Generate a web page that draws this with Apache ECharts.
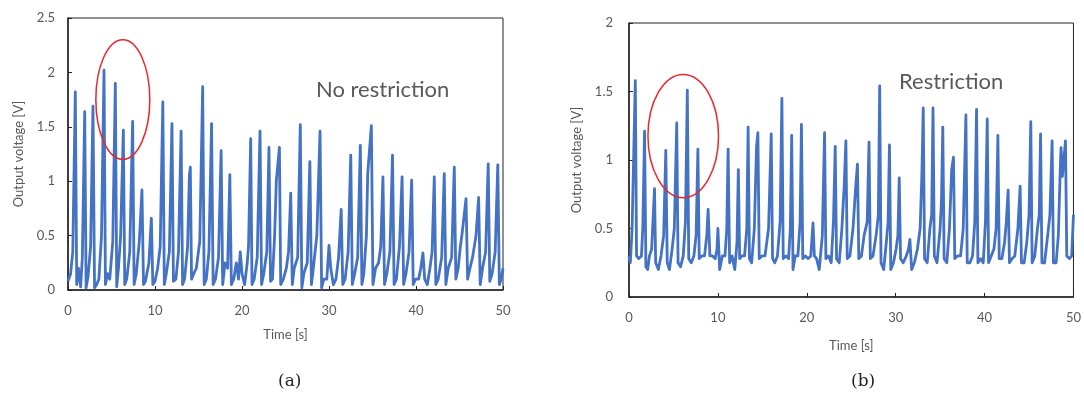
<!DOCTYPE html>
<html>
<head>
<meta charset="utf-8">
<title>Output voltage</title>
<script src="https://cdn.jsdelivr.net/npm/echarts@6/dist/echarts.min.js"></script>
<style>
  html, body { margin: 0; padding: 0; background: #fff; }
  #chart { width: 1084px; height: 394px; }
</style>
</head>
<body>
<div id="chart"></div>
<script>
// (a) no restriction: time [s] and output voltage [V], one pulse per line
const timeA = [
  0.0, 0.3, 0.55,
  0.84, 1.0, 1.2, 1.45, 1.65,
  1.92, 2.08, 2.3, 2.6,
  2.87, 3.05, 3.3, 3.55, 3.85,
  4.14, 4.3, 4.55, 4.8, 5.15,
  5.44, 5.6, 5.8, 6.05,
  6.36, 6.52, 6.75, 7.1,
  7.43, 7.6, 7.85, 8.2,
  8.5, 8.68, 8.9, 9.3,
  9.58, 9.75, 10.0, 10.3, 10.6,
  10.9, 11.07, 11.3, 11.65,
  11.95, 12.12, 12.4, 12.7,
  13.0, 13.17, 13.4, 13.75, 13.95,
  14.06, 14.2, 14.45, 14.75, 15.15,
  15.48, 15.65, 15.9, 16.2,
  16.5, 16.68, 16.95, 17.3,
  17.6, 17.78, 18.05, 18.35,
  18.6, 18.78, 19.05, 19.35, 19.6,
  19.8, 20.0, 20.3, 20.6, 20.75,
  21.0, 21.15, 21.4, 21.75,
  22.07, 22.25, 22.5, 22.85,
  23.1, 23.28, 23.5, 23.75, 23.95,
  24.3, 24.45, 24.75, 25.1, 25.35,
  25.6, 25.78, 26.0, 26.4,
  26.7, 26.88, 27.1, 27.5,
  27.8, 27.98, 28.2, 28.6,
  28.97, 29.15, 29.4, 29.75,
  30.0, 30.2, 30.5, 30.8, 31.1,
  31.4, 31.58, 31.85, 32.2,
  32.5, 32.68, 32.95, 33.3,
  33.6, 33.78, 34.0, 34.3, 34.45,
  34.87, 35.05, 35.35, 35.7, 35.95,
  36.2, 36.38, 36.65, 37.0,
  37.3, 37.48, 37.75, 38.1,
  38.4, 38.58, 38.85, 39.2,
  39.5, 39.68, 39.95, 40.3, 40.55,
  40.8, 41.0, 41.3, 41.6, 41.85,
  42.1, 42.28, 42.55, 42.95,
  43.25, 43.43, 43.7, 44.1,
  44.4, 44.58, 44.85, 45.1, 45.3,
  45.75, 45.93, 46.2, 46.5, 46.9,
  47.2, 47.38, 47.65, 48.0,
  48.3, 48.48, 48.75, 49.1,
  49.4, 49.58, 49.8, 50.0
];
const voltA = [
  0.08, 0.15, 0.35,
  1.82, 0.05, 0.2, 0.03, 0.3,
  1.64, 0.02, 0.12, 0.4,
  1.69, 0.02, 0.05, 0.1, 0.5,
  2.02, 0.05, 0.15, 0.1, 0.45,
  1.90, 0.03, 0.2, 0.5,
  1.47, 0.05, 0.1, 0.35,
  1.55, 0.05, 0.15, 0.45,
  0.92, 0.05, 0.08, 0.25,
  0.66, 0.05, 0.08, 0.2, 0.4,
  1.73, 0.05, 0.15, 0.35,
  1.53, 0.08, 0.1, 0.35,
  1.46, 0.05, 0.1, 0.4, 1.05,
  1.13, 0.1, 0.15, 0.2, 0.45,
  1.87, 0.05, 0.1, 0.35,
  1.53, 0.05, 0.1, 0.3,
  1.28, 0.05, 0.25, 0.2,
  1.06, 0.05, 0.1, 0.25, 0.1,
  0.35, 0.15, 0.05, 0.25, 0.4,
  1.39, 0.05, 0.1, 0.3,
  1.46, 0.05, 0.15, 0.35,
  1.31, 0.08, 0.1, 0.5, 1.01,
  1.31, 0.05, 0.1, 0.2, 0.35,
  0.89, 0.05, 0.2, 0.3,
  1.52, 0.02, 0.15, 0.25,
  1.18, 0.05, 0.2, 0.5,
  1.46, 0.02, 0.1, 0.1,
  0.41, 0.2, 0.05, 0.1, 0.3,
  0.74, 0.05, 0.1, 0.35,
  1.24, 0.05, 0.15, 0.3,
  1.33, 0.05, 0.15, 0.5, 1.07,
  1.51, 0.05, 0.2, 0.25, 0.4,
  1.04, 0.05, 0.15, 0.35,
  1.24, 0.05, 0.1, 0.4,
  1.04, 0.05, 0.15, 0.35,
  1.01, 0.05, 0.1, 0.1, 0.2,
  0.34, 0.1, 0.05, 0.2, 0.35,
  1.04, 0.05, 0.1, 0.3,
  1.07, 0.05, 0.2, 0.3,
  1.13, 0.1, 0.2, 0.4, 0.52,
  0.84, 0.1, 0.2, 0.3, 0.5,
  0.85, 0.05, 0.2, 0.35,
  1.16, 0.08, 0.15, 0.35,
  1.15, 0.05, 0.1, 0.2
];

// (b) restriction
const timeB = [
  0.0, 0.15, 0.35,
  0.71, 0.85, 1.1, 1.4, 1.55,
  1.75, 1.9, 2.1, 2.3, 2.55,
  2.87, 3.0, 3.3, 3.6, 3.9,
  4.14, 4.3, 4.55, 4.85, 5.1,
  5.37, 5.52, 5.8, 6.1, 6.35,
  6.56, 6.72, 7.0, 7.3, 7.55,
  7.75, 7.9, 8.2, 8.5, 8.75,
  8.9, 9.1, 9.4, 9.7, 9.9,
  10.0, 10.2, 10.5, 10.8, 11.0,
  11.15, 11.32, 11.6, 11.9, 12.15,
  12.3, 12.45, 12.7, 13.0, 13.25,
  13.4, 13.55, 13.8, 14.1, 14.35,
  14.5, 14.65, 14.95, 15.3, 15.7,
  16.0, 16.15, 16.4, 16.7, 17.0,
  17.2, 17.35, 17.65, 17.95, 18.15,
  18.3, 18.45, 18.7, 19.0, 19.25,
  19.4, 19.55, 19.85, 20.15, 20.45,
  20.7, 20.85, 21.1, 21.4, 21.75,
  22.0, 22.15, 22.45, 22.75, 23.0,
  23.2, 23.35, 23.65, 23.95, 24.2,
  24.4, 24.55, 24.85, 25.2, 25.5,
  25.7, 25.85, 26.15, 26.45, 26.8,
  27.0, 27.15, 27.45, 27.8, 28.05,
  28.2, 28.35, 28.65, 28.95, 29.15,
  29.3, 29.45, 29.75, 30.05, 30.25,
  30.4, 30.55, 30.85, 31.2, 31.45,
  31.6, 31.8, 32.1, 32.45, 32.75, 32.95,
  33.1, 33.25, 33.55, 33.85, 34.05,
  34.2, 34.35, 34.65, 35.0, 35.15,
  35.3, 35.45, 35.75, 36.05, 36.3,
  36.5, 36.65, 36.95, 37.3, 37.6,
  37.9, 38.05, 38.35, 38.65, 38.9,
  39.1, 39.25, 39.55, 39.85, 40.1,
  40.3, 40.45, 40.75, 41.05, 41.3,
  41.5, 41.65, 41.95, 42.25, 42.45,
  42.65, 42.8, 43.1, 43.4, 43.75,
  44.0, 44.15, 44.45, 44.75, 45.0,
  45.2, 45.35, 45.65, 45.95, 46.15,
  46.3, 46.45, 46.75, 47.1, 47.35,
  47.6, 47.75, 48.05, 48.3, 48.5,
  48.6, 48.75, 49.1, 49.25, 49.55, 49.8, 50.0
];
const voltB = [
  0.3, 0.25, 0.5,
  1.58, 0.3, 0.28, 0.3, 0.5,
  1.21, 0.22, 0.2, 0.3, 0.35,
  0.79, 0.25, 0.2, 0.3, 0.45,
  1.07, 0.25, 0.2, 0.35, 0.5,
  1.27, 0.25, 0.22, 0.3, 0.55,
  1.51, 0.28, 0.25, 0.3, 0.45,
  1.08, 0.28, 0.3, 0.3, 0.45,
  0.64, 0.3, 0.3, 0.28, 0.35,
  0.50, 0.2, 0.3, 0.3, 0.5,
  1.08, 0.25, 0.3, 0.2, 0.4,
  0.93, 0.28, 0.3, 0.3, 0.5,
  1.24, 0.28, 0.25, 0.5, 1.1,
  1.20, 0.28, 0.3, 0.3, 0.5,
  1.19, 0.28, 0.25, 0.3, 0.55,
  1.45, 0.28, 0.3, 0.28, 0.5,
  1.18, 0.2, 0.3, 0.3, 0.55,
  1.26, 0.28, 0.3, 0.28, 0.3,
  0.54, 0.3, 0.28, 0.2, 0.45,
  1.20, 0.28, 0.3, 0.25, 0.55,
  1.10, 0.28, 0.25, 0.5, 0.8,
  1.14, 0.28, 0.3, 0.5, 0.8,
  0.97, 0.28, 0.3, 0.45, 0.55,
  1.13, 0.28, 0.3, 0.45, 0.6,
  1.54, 0.25, 0.2, 0.4, 0.55,
  1.11, 0.2, 0.25, 0.35, 0.45,
  0.87, 0.28, 0.25, 0.3, 0.35,
  0.42, 0.2, 0.25, 0.35, 0.5, 0.9,
  1.38, 0.28, 0.25, 0.5, 0.6,
  1.38, 0.3, 0.25, 0.5, 0.7,
  1.24, 0.28, 0.25, 0.5, 0.93,
  1.02, 0.28, 0.3, 0.3, 0.5,
  1.33, 0.25, 0.25, 0.3, 0.55,
  1.37, 0.25, 0.28, 0.25, 0.55,
  1.30, 0.25, 0.3, 0.35, 0.5,
  1.18, 0.28, 0.28, 0.4, 0.55,
  0.78, 0.25, 0.28, 0.3, 0.5,
  0.81, 0.25, 0.25, 0.4, 0.6,
  1.28, 0.25, 0.3, 0.5, 0.6,
  1.19, 0.25, 0.25, 0.45, 0.6,
  1.14, 0.25, 0.25, 0.45, 0.9,
  1.09, 0.88, 1.14, 0.3, 0.28, 0.3, 0.6
];

// red circled regions: centre and half extents, in data units
const ringA = { t: 6.3, v: 1.75, dt: 3.1, dv: 0.55 };
const ringB = { t: 6.1, v: 1.175, dt: 3.97, dv: 0.45 };

const zip = (xs, ys) => xs.map((x, i) => [x, ys[i]]);

const FONT = "Lato";
const TXT = "#595959";
const BLUE = "#4472c4";

const chart = echarts.init(document.getElementById("chart"), null, { renderer: "canvas" });

const xAxisBase = (gridIndex, gap) => ({
  type: "value",
  gridIndex,
  min: 0,
  max: 50,
  interval: 10,
  name: "Time [s]",
  nameLocation: "middle",
  nameGap: gap,
  nameTextStyle: { color: TXT, fontFamily: FONT, fontSize: 13 },
  axisLine: { lineStyle: { color: "#222", width: 1.5 } },
  axisTick: { inside: true, length: 4, lineStyle: { color: "#222" } },
  axisLabel: { color: TXT, fontFamily: FONT, fontSize: 13, margin: 14 },
  splitLine: { show: false },
});

const yAxisBase = (gridIndex, max, gap, margin) => ({
  type: "value",
  gridIndex,
  min: 0,
  max,
  interval: 0.5,
  name: "Output voltage [V]",
  nameLocation: "middle",
  nameGap: gap,
  nameTextStyle: { color: TXT, fontFamily: FONT, fontSize: 13 },
  axisLine: { show: true, lineStyle: { color: "#222", width: 1.5 } },
  axisTick: { show: true, inside: true, length: 4, lineStyle: { color: "#222" } },
  axisLabel: { color: TXT, fontFamily: FONT, fontSize: 13, margin },
  splitLine: { show: false },
});

const lineSeries = (idx, data) => ({
  type: "line",
  xAxisIndex: idx,
  yAxisIndex: idx,
  data,
  symbol: "none",
  smooth: false,
  lineStyle: { color: BLUE, width: 2.8, join: "round" },
  animation: false,
});

chart.setOption({
  backgroundColor: "#fff",
  animation: false,
  grid: [
    { left: 68, top: 18, width: 435, height: 272, show: true, borderColor: "#222", borderWidth: 1 },
    { left: 629, top: 23, width: 447, height: 274, show: true, borderColor: "#222", borderWidth: 1 },
  ],
  xAxis: [xAxisBase(0, 38), xAxisBase(1, 42)],
  yAxis: [yAxisBase(0, 2.5, 43, 13), yAxisBase(1, 2, 46, 16)],
  series: [lineSeries(0, zip(timeA, voltA)), lineSeries(1, zip(timeB, voltB))],
  title: [
    { text: "No restriction", left: 311, top: 74, textStyle: { color: TXT, fontFamily: FONT, fontSize: 22, fontWeight: "normal" } },
    { text: "Restriction", left: 894, top: 66, textStyle: { color: TXT, fontFamily: FONT, fontSize: 22, fontWeight: "normal" } },
    { text: "(a)", left: 273, top: 368, textStyle: { color: "#222", fontFamily: "DejaVu Serif", fontSize: 17, fontWeight: "normal" } },
    { text: "(b)", left: 846, top: 368, textStyle: { color: "#222", fontFamily: "DejaVu Serif", fontSize: 17, fontWeight: "normal" } },
  ],
});

// place the red ellipses from their data positions
function ring(gridIndex, r) {
  const c = chart.convertToPixel({ gridIndex }, [r.t, r.v]);
  const e = chart.convertToPixel({ gridIndex }, [r.t + r.dt, r.v + r.dv]);
  return {
    type: "ellipse",
    shape: { cx: c[0], cy: c[1], rx: Math.abs(e[0] - c[0]), ry: Math.abs(e[1] - c[1]) },
    style: { fill: null, stroke: "#e8282b", lineWidth: 1.5 },
    z: 100,
  };
}
chart.setOption({ graphic: [ring(0, ringA), ring(1, ringB)] });
</script>
</body>
</html>
